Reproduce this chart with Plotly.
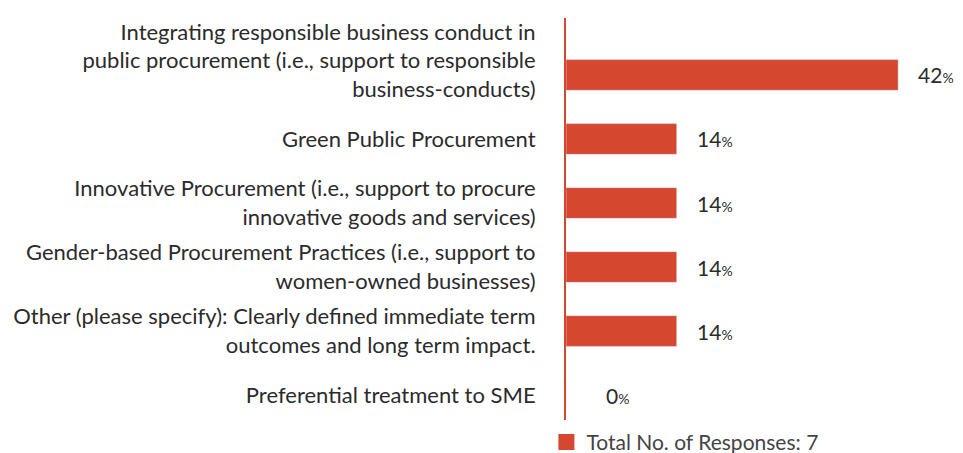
import plotly.graph_objects as go

categories = [
    "Integrating responsible business conduct in<br>public procurement (i.e., support to responsible<br>business-conducts)<br> ",
    "Green Public Procurement",
    "Innovative Procurement (i.e., support to procure<br>innovative goods and services)",
    "Gender-based Procurement Practices (i.e., support to<br>women-owned businesses)",
    "Other (please specify): Clearly defined immediate term<br>outcomes and long term impact.",
    "Preferential treatment to SME",
]
values = [42, 14, 14, 14, 14, 0]
series_name = "Total No. of Responses: 7"

red = "#d5472f"
txt = "#2b2b2b"
idx = list(range(len(categories)))

fig = go.Figure()
fig.add_trace(go.Bar(
    x=values, y=idx, orientation="h",
    marker_color=red, width=0.48,
    showlegend=False, hoverinfo="skip",
))
# legend entry with a bigger square, like the original
fig.add_trace(go.Scatter(
    x=[None], y=[None], mode="markers", name=series_name,
    marker=dict(symbol="square", size=17, color=red),
))

for i, v in zip(idx, values):
    fig.add_annotation(
        x=v, y=i, xref="x", yref="y",
        text=f"{v}<span style='font-size:14px'>%</span>",
        showarrow=False, xanchor="left", xshift=18 if v else 38,
        font=dict(size=21, color=txt),
    )

# page has an 8px body margin, so the figure is a bit smaller than the window
fig.update_layout(
    width=955, height=445,
    margin=dict(l=558, r=53, t=10, b=33),
    plot_bgcolor="white", paper_bgcolor="white",
    font=dict(family="Lato, 'Open Sans', sans-serif", size=22, color=txt),
    legend=dict(orientation="h", x=-0.057, xanchor="left",
                y=0.024, yref="container", yanchor="middle",
                font=dict(size=21, color="#444"), itemwidth=30),
)
fig.update_xaxes(visible=False, range=[0, 43.5], showgrid=False, zeroline=False)
fig.update_yaxes(
    tickvals=idx, ticktext=categories, range=[5.39, -0.89],
    showline=True, linecolor=red, linewidth=2, automargin=False,
    showgrid=False, zeroline=False, ticks="", ticklabelstandoff=24,
)

fig.write_html("out.html")
